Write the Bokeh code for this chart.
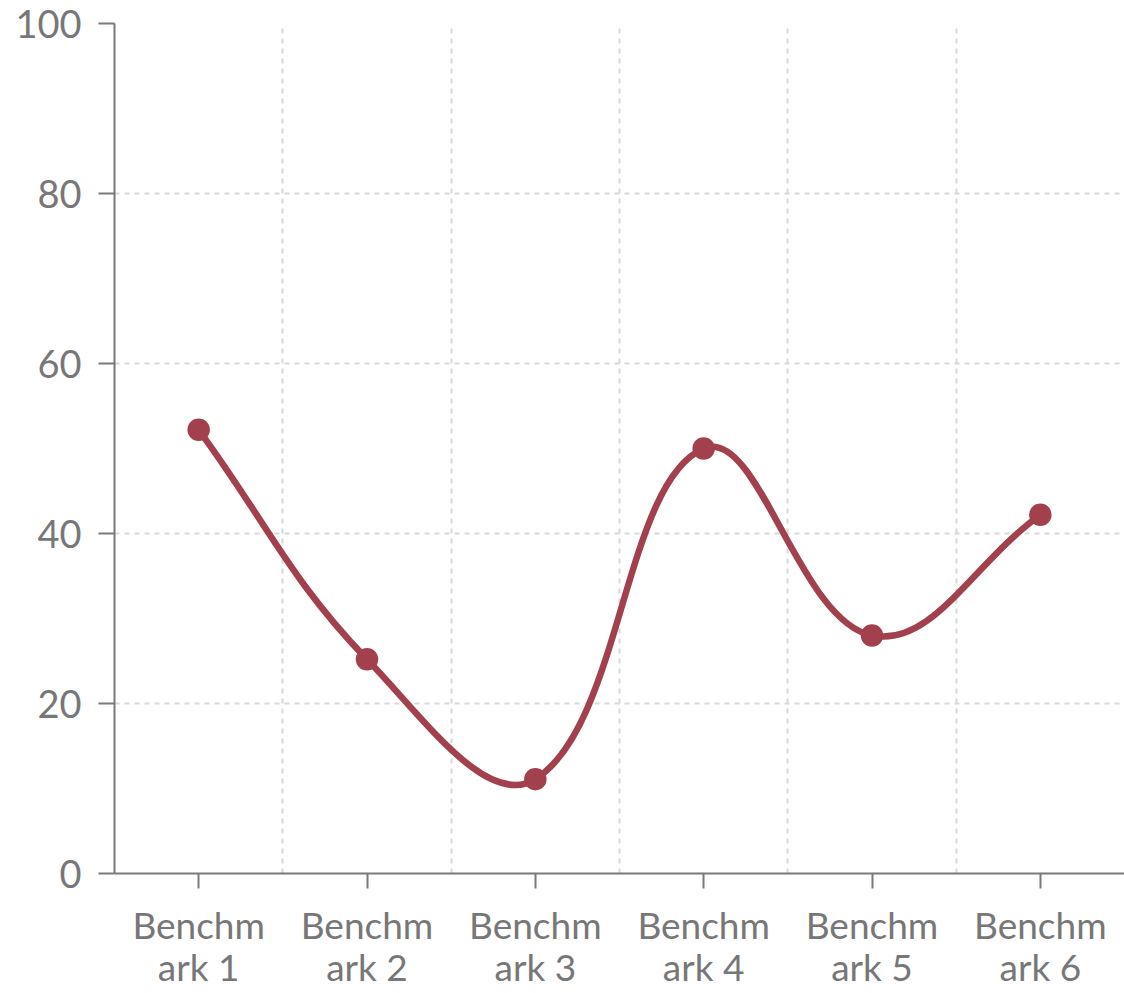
import numpy as np
from bokeh.plotting import figure
from bokeh.models import Range1d, FixedTicker
from bokeh.embed import file_html
from bokeh.resources import INLINE

# ---- data ----
categories = ["Benchmark 1", "Benchmark 2", "Benchmark 3",
              "Benchmark 4", "Benchmark 5", "Benchmark 6"]
scores = [52.2, 25.2, 11.1, 50.0, 28.0, 42.2]
y_ticks = [0, 20, 40, 60, 80, 100]

# ---- layout ----
W, H = 1124, 993
BL, BR, BT, BB = 114, 0, 23, 120
plot_w = W - BL - BR
plot_h = H - BT - BB

LINE_COLOR = "#a3404e"
TEXT_COLOR = "#777777"
AXIS_COLOR = "#7a7a7a"
GRID_COLOR = "#d8d8d8"

xs = list(range(1, len(categories) + 1))
labels = {x: c[:6] + "\n" + c[6:] for x, c in zip(xs, categories)}

p = figure(width=W, height=H, output_backend="svg", toolbar_location=None,
           x_range=Range1d(0.5, len(categories) + 0.5),
           y_range=Range1d(0, 100),
           min_border_left=BL, min_border_right=BR,
           min_border_top=BT, min_border_bottom=BB)
p.outline_line_color = None
p.background_fill_color = "white"
p.border_fill_color = "white"

# axes
for ax in (p.xaxis, p.yaxis):
    ax.axis_line_color = AXIS_COLOR
    ax.axis_line_width = 2
    ax.major_tick_line_color = AXIS_COLOR
    ax.major_tick_line_width = 2
    ax.major_tick_in = 0
    ax.minor_tick_line_color = None
    ax.major_label_text_font = "Lato"
    ax.major_label_text_color = TEXT_COLOR

p.yaxis.ticker = FixedTicker(ticks=y_ticks)
p.yaxis.major_tick_out = 16
p.yaxis.major_label_standoff = 17
p.yaxis.major_label_text_font_size = "38px"

p.xaxis.ticker = FixedTicker(ticks=xs)
p.xaxis.major_label_overrides = labels
p.xaxis.major_tick_out = 15
p.xaxis.major_label_standoff = 13
p.xaxis.major_label_text_font_size = "37px"
p.xaxis.major_label_text_line_height = 0.95

# grids
p.xgrid.ticker = FixedTicker(ticks=[x + 0.5 for x in xs[:-1]])
p.ygrid.ticker = FixedTicker(ticks=y_ticks)
for g in (p.xgrid, p.ygrid):
    g.grid_line_color = GRID_COLOR
    g.grid_line_width = 2
    g.grid_line_dash = "5 5"

# smooth line (tension spline computed in screen space)
sx = plot_w / len(categories)
sy = plot_h / 100.0
P = np.column_stack([np.array(xs, float) * sx, np.array(scores, float) * sy])
n = len(P)
tension = 0.4
cp_prev = np.zeros_like(P)
cp_next = np.zeros_like(P)
for i in range(n):
    prev = P[max(i - 1, 0)]
    cur = P[i]
    nxt = P[min(i + 1, n - 1)]
    d01 = np.hypot(*(cur - prev))
    d12 = np.hypot(*(nxt - cur))
    tot = d01 + d12
    s01 = d01 / tot if tot else 0.0
    s12 = d12 / tot if tot else 0.0
    cp_prev[i] = cur - tension * s01 * (nxt - prev)
    cp_next[i] = cur + tension * s12 * (nxt - prev)

p.bezier(x0=P[:-1, 0] / sx, y0=P[:-1, 1] / sy,
         x1=P[1:, 0] / sx, y1=P[1:, 1] / sy,
         cx0=cp_next[:-1, 0] / sx, cy0=cp_next[:-1, 1] / sy,
         cx1=cp_prev[1:, 0] / sx, cy1=cp_prev[1:, 1] / sy,
         line_color=LINE_COLOR, line_width=6.5, line_cap="round")

p.scatter(xs, scores, marker="circle", size=21,
          fill_color=LINE_COLOR, line_color=LINE_COLOR, line_width=1.5)

open("out.html", "w").write(file_html(p, INLINE))
